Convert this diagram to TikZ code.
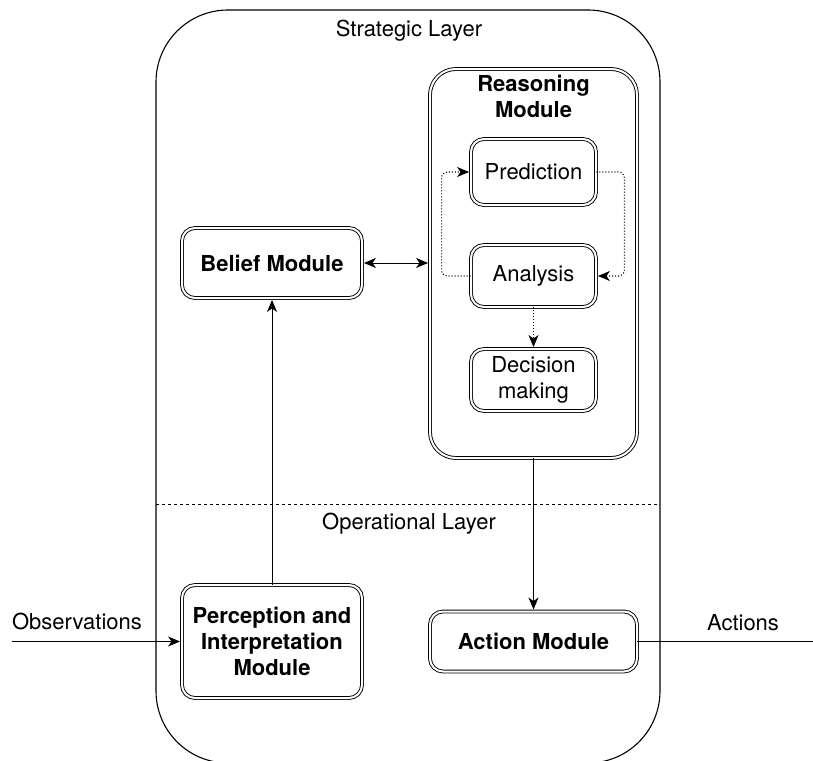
\documentclass[tikz,border=0pt]{standalone}
\usepackage{fontspec}
\setmainfont{TeX Gyre Heros}
\usetikzlibrary{arrows.meta}
\begin{document}
\begin{tikzpicture}[x=1pt,y=-1pt,
  font=\fontsize{22}{26}\selectfont,
  mod/.style={draw, double, double distance=2pt, line width=0.9pt, rounded corners=13pt, align=center, inner sep=0pt},
  tip/.style={-{Stealth[length=12pt,width=10pt,inset=3.5pt]}},
  arr/.style={line width=1pt, tip},
  dotarr/.style={line width=1.1pt, dash pattern=on 1pt off 2pt, tip},
  plain/.style={line width=1pt}]
\useasboundingbox (0,0) rectangle (813,760);
\clip (0,0) rectangle (813,760);
% outer layer frame
\draw[line width=1.1pt, rounded corners=72pt] (156,10) rectangle (660,763);
\coordinate (dl) at (156,504);
\coordinate (dr) at (660,504);
\draw[line width=0.9pt, dash pattern=on 3pt off 3pt] (dl) -- (dr);
\node (strat) at (409,31) {Strategic Layer};
\node (oper) at (409,524) {Operational Layer};
% modules
\node[mod, minimum width=207pt, minimum height=389pt, rounded corners=26pt,
      label={[anchor=north, yshift=-3pt, align=center, font=\fontsize{22}{26}\selectfont\bfseries]north:Reasoning\\Module}]
      (reas) at (533.5,263.5) {};
\node[mod, minimum width=125pt, minimum height=66pt] (pred) at (533.5,172) {Prediction};
\node[mod, minimum width=125pt, minimum height=62pt] (ana) at (533.5,276) {Analysis};
\node[mod, minimum width=125pt, minimum height=62pt] (dec) at (533.5,380) {Decision\\making};
\node[mod, minimum width=180pt, minimum height=70pt, font=\fontsize{22}{26}\selectfont\bfseries] (bel) at (272,263) {Belief Module};
\node[mod, minimum width=180pt, minimum height=113pt, font=\fontsize{22}{26}\selectfont\bfseries] (perc) at (272,641.5) {Perception and\\Interpretation\\Module};
\node[mod, minimum width=207pt, minimum height=60pt, font=\fontsize{22}{26}\selectfont\bfseries] (act) at (533.5,641.5) {Action Module};
% outside texts
\node (obs) at (77,621) {Observations};
\node (acts) at (743,623) {Actions};
\coordinate (obsin) at (12,641.5);
\coordinate (actout) at (813,641.5);
% connectors
\draw[arr, shorten >=1.5pt] (obsin) -- (perc.west);
\draw[plain] (act.east) -- (actout);
\draw[arr, shorten >=1.5pt] (perc.north) -- (bel.south);
\draw[line width=1pt, {Stealth[length=12pt,width=10pt,inset=3.5pt]}-{Stealth[length=12pt,width=10pt,inset=3.5pt]}, shorten <=1.5pt, shorten >=1.5pt] (bel.east) -- (bel.east -| reas.west);
\draw[arr, shorten >=1.5pt] (reas.south) -- (act.north);
\draw[dotarr, rounded corners=6pt, shorten >=1.5pt] (ana.west) -- ++(-29,0) |- (pred.west);
\draw[dotarr, rounded corners=6pt, shorten >=1.5pt] (pred.east) -- ++(28,0) |- (ana.east);
\draw[dotarr, shorten >=1.5pt] (ana.south) -- (dec.north);
\end{tikzpicture}
\end{document}
